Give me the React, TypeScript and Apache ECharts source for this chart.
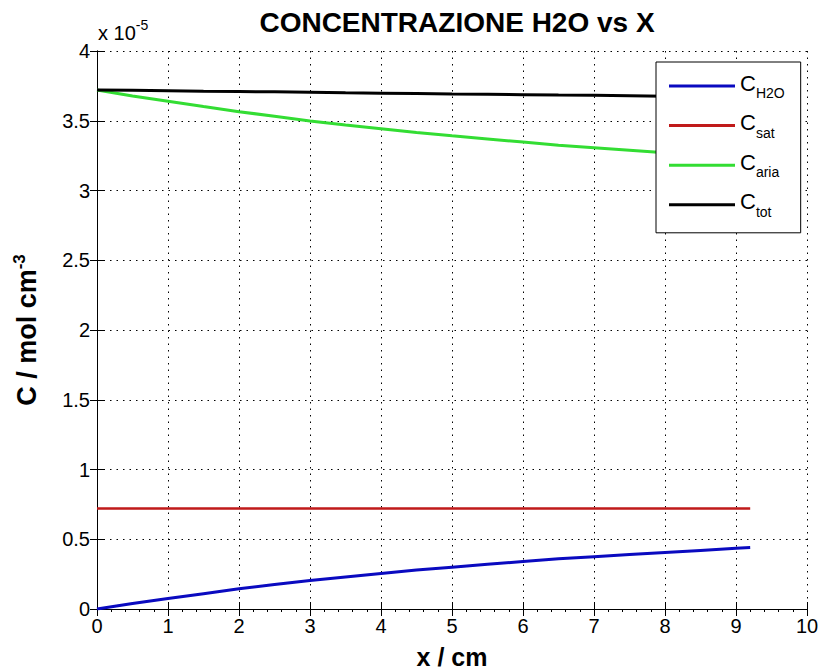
import React, { useEffect, useRef } from "react";
import * as echarts from "echarts";

// x positions (cm)
const xValues = [0, 0.5, 1, 1.5, 2, 2.5, 3, 3.5, 4, 4.5, 5, 5.5, 6, 6.5, 7, 7.5, 8, 8.5, 9, 9.2];
// concentrations in units of 1e-5 mol cm^-3
const cH2O = [0, 0.04, 0.075, 0.11, 0.145, 0.175, 0.205, 0.23, 0.255, 0.28, 0.3, 0.32, 0.34, 0.36, 0.375, 0.39, 0.405, 0.42, 0.435, 0.44];
const cSat = [0.72, 0.72, 0.72, 0.72, 0.72, 0.72, 0.72, 0.72, 0.72, 0.72, 0.72, 0.72, 0.72, 0.72, 0.72, 0.72, 0.72, 0.72, 0.72, 0.72];
const cAria = [3.72, 3.678, 3.64, 3.602, 3.565, 3.532, 3.499, 3.47, 3.443, 3.415, 3.392, 3.37, 3.347, 3.324, 3.307, 3.289, 3.271, 3.253, 3.235, 3.228];
const cTot = [3.72, 3.718, 3.715, 3.712, 3.71, 3.707, 3.704, 3.7, 3.698, 3.695, 3.692, 3.69, 3.687, 3.684, 3.682, 3.679, 3.676, 3.673, 3.67, 3.668];

const seriesNames = ["C_H2O", "C_sat", "C_aria", "C_tot"];
const legendSubs: Record<string, string> = { C_H2O: "H2O", C_sat: "sat", C_aria: "aria", C_tot: "tot" };
const seriesColors = ["#0a0ac0", "#c01a1a", "#33dd33", "#000000"];
const seriesData = [cH2O, cSat, cAria, cTot];

const FONT = "'Liberation Sans', Arial, sans-serif";
const BOLD = "'Liberation Sans', Arial, sans-serif";

export default function App() {
  const ref = useRef<HTMLDivElement>(null);
  useEffect(() => {
    document.body.style.margin = "0";
    const chart = echarts.init(ref.current!, undefined, { renderer: "svg" });
    const axisCommon = {
      type: "value" as const,
      axisLine: { show: true, lineStyle: { color: "#000", width: 1 } },
      axisTick: { show: true, inside: true, length: 7, lineStyle: { color: "#000" } },
    };
    chart.setOption({
      animation: false,
      backgroundColor: "#fff",
      title: {
        text: "CONCENTRAZIONE H2O vs X",
        left: 452,
        textAlign: "center",
        top: 3,
        textStyle: { fontFamily: BOLD, fontWeight: "bold", fontSize: 28, color: "#000" },
      },
      grid: { left: 97, top: 51, right: 11, bottom: 61, outerBoundsMode: "none", containLabel: false },
      legend: {
        orient: "vertical",
        left: 656,
        top: 62,
        padding: [10, 16, 14, 13],
        itemWidth: 66,
        itemHeight: 3,
        itemGap: 11.6,
        icon: "rect",
        backgroundColor: "#fff",
        borderColor: "#000",
        borderWidth: 1,
        borderRadius: 0,
        data: seriesNames,
        formatter: (name: string) => `{c|C}{s|${legendSubs[name]}}`,
        textStyle: {
          rich: {
            c: { fontFamily: FONT, fontSize: 22, color: "#000", lineHeight: 28, verticalAlign: "top" },
            s: { fontFamily: FONT, fontSize: 14, color: "#000", lineHeight: 28, padding: [14, 0, 0, 0] },
          },
        },
      },
      xAxis: [
        {
          ...axisCommon,
          min: 0,
          max: 10,
          interval: 1,
          position: "bottom",
          name: "x / cm",
          nameLocation: "middle",
          nameGap: 35,
          nameTextStyle: { fontFamily: BOLD, fontWeight: "bold", fontSize: 25, lineHeight: 25, color: "#000" },
          axisLabel: { fontFamily: FONT, fontSize: 20, color: "#000", margin: 7 },
          splitLine: { show: true, lineStyle: { type: [1.5, 5], color: "#000", width: 1 } },
        },
        {
          ...axisCommon,
          min: 0,
          max: 10,
          interval: 1,
          position: "top",
          axisLabel: { show: false },
          minorTick: { show: true, splitNumber: 5, length: 3, lineStyle: { color: "#000" } },
          splitLine: { show: false },
        },
      ],
      yAxis: [
        {
          ...axisCommon,
          min: 0,
          max: 4,
          interval: 0.5,
          position: "left",
          name: "C / mol cm{sup|-3}",
          nameLocation: "middle",
          nameGap: 55,
          nameTextStyle: {
            fontFamily: BOLD,
            fontWeight: "bold",
            fontSize: 27,
            color: "#000",
            rich: { sup: { fontFamily: BOLD, fontWeight: "bold", fontSize: 17, color: "#000", padding: [0, 0, 14, 0] } },
          },
          axisLabel: { fontFamily: FONT, fontSize: 20, color: "#000", margin: 7 },
          splitLine: { show: true, lineStyle: { type: [1.5, 5], color: "#000", width: 1 } },
        },
        {
          ...axisCommon,
          min: 0,
          max: 4,
          interval: 0.5,
          position: "right",
          axisLabel: { show: false },
          splitLine: { show: false },
        },
      ],
      graphic: [
        {
          type: "text",
          left: 98,
          top: 18,
          style: {
            text: "x 10{e|-5}",
            fontFamily: FONT,
            fontSize: 20,
            fill: "#000",
            rich: { e: { fontFamily: FONT, fontSize: 14, fill: "#000", padding: [0, 0, 16, 0] } },
          },
        },
      ],
      series: seriesNames.map((n, i) => ({
        name: n,
        type: "line",
        xAxisIndex: 0,
        yAxisIndex: 0,
        symbol: "none",
        smooth: false,
        data: xValues.map((x, j) => [x, seriesData[i][j]]),
        lineStyle: { color: seriesColors[i], width: i === 1 ? 2.5 : 3 },
        itemStyle: { color: seriesColors[i] },
      })),
    });
    return () => chart.dispose();
  }, []);
  return <div ref={ref} style={{ width: 818, height: 670 }} />;
}
